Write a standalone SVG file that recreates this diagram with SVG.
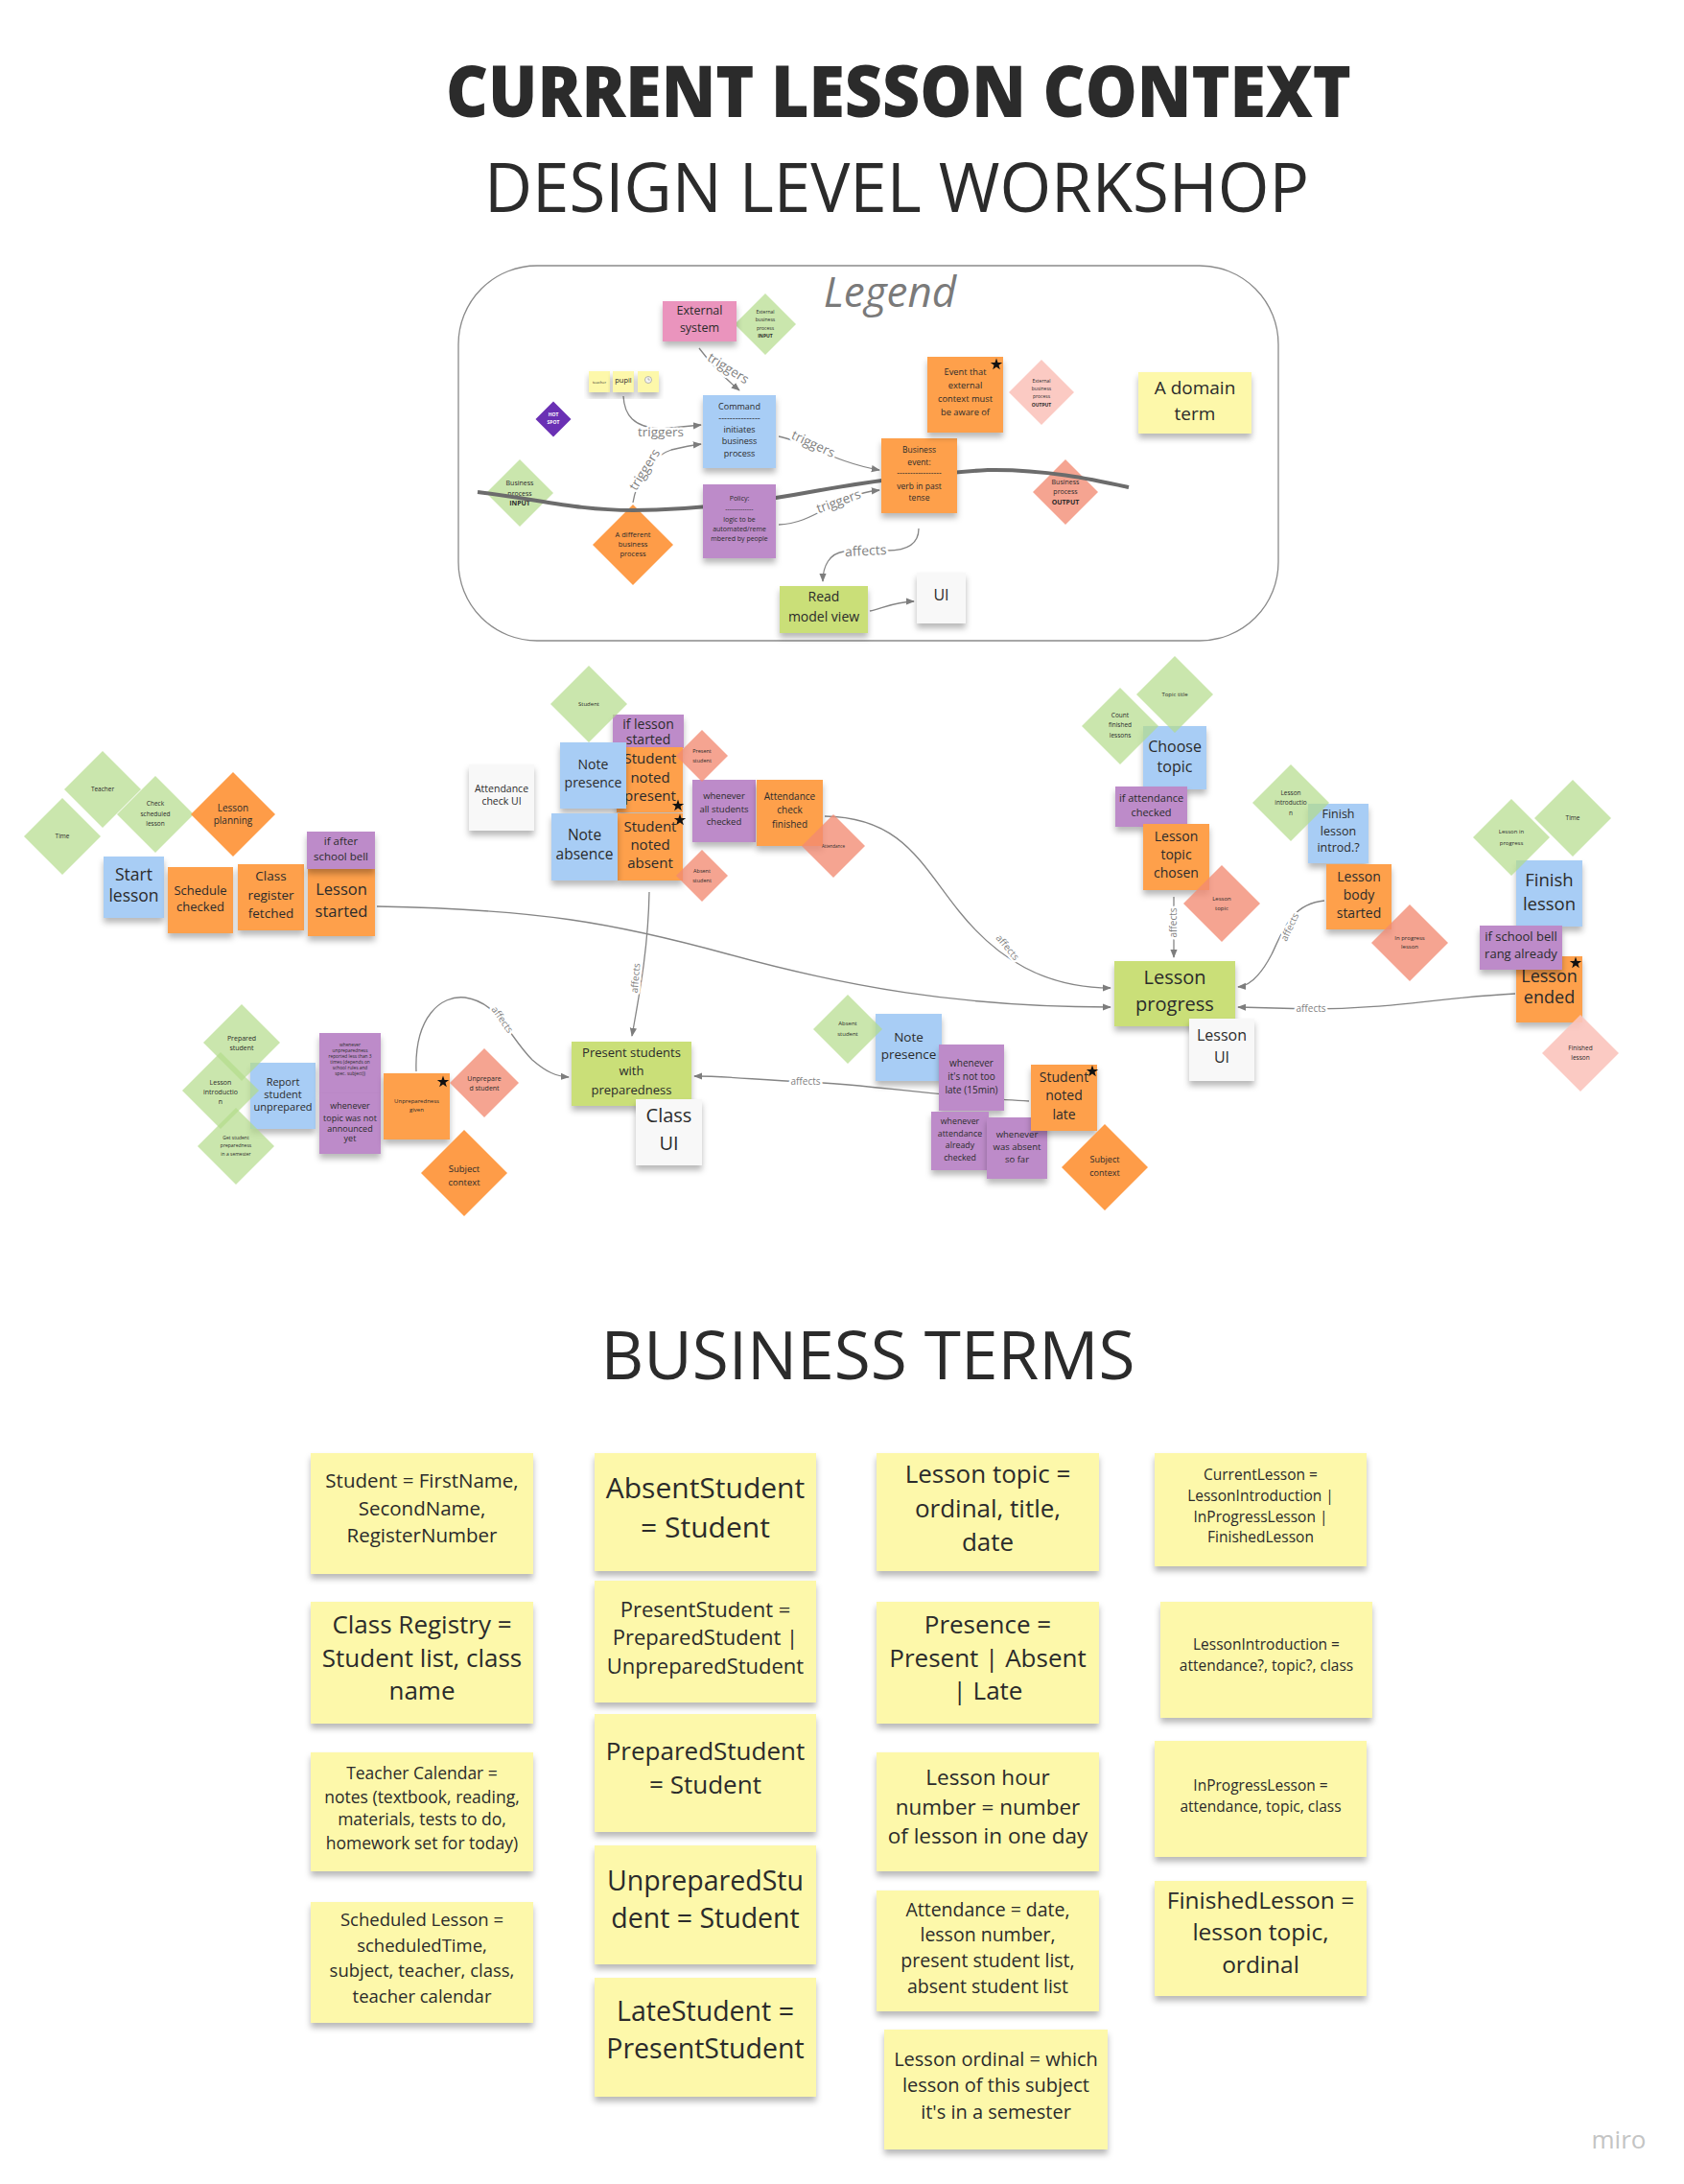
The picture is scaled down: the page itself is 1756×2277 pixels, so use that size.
<svg xmlns="http://www.w3.org/2000/svg" width="1756" height="2277" viewBox="0 0 1756 2277">
<defs>
<filter id="sh" x="-20%" y="-20%" width="140%" height="150%"><feDropShadow dx="0" dy="5" stdDeviation="3" flood-color="#000" flood-opacity="0.28"/></filter>
<marker id="ah" viewBox="0 0 10 10" refX="9" refY="5" markerWidth="7" markerHeight="7" orient="auto"><path d="M0,1 L10,5 L0,9 z" fill="#7d7d7d"/></marker>
<path id="star" d="M0,-6.5 L1.53,-2.1 L6.18,-2 L2.47,0.8 L3.82,5.26 L0,2.6 L-3.82,5.26 L-2.47,0.8 L-6.18,-2 L-1.53,-2.1 Z" fill="#111"/>
<style>
text{font-family:"Open Sans","Liberation Sans",sans-serif;fill:#2b2b2b;text-anchor:middle}
.ev{fill:#fea04c;filter:url(#sh)}
.cmd{fill:#a8cdf5;filter:url(#sh)}
.pol{fill:#bd8bc9;filter:url(#sh)}
.ext{fill:#ea94bd;filter:url(#sh)}
.rm{fill:#cadf78;filter:url(#sh)}
.ui{fill:#f8f8f8;filter:url(#sh)}
.term{fill:#fdf8aa;filter:url(#sh)}
.sy{fill:#fdf8aa;filter:url(#sh)}
.ga{fill:#b3dc8a;opacity:0.7}
.sa{fill:#f28a72;opacity:0.78}
.lp{fill:#fbc4bd;opacity:0.9}
.od{fill:#fe9c48}
.hs{fill:#6a30b4}
.c{fill:none;stroke:#858585;stroke-width:1.3}
.pl{fill:none;stroke:#6c6c6c;stroke-width:4}
.lbl{fill:#7f7f7f;stroke:#fff;stroke-width:5;paint-order:stroke;stroke-linejoin:round}
.b{font-weight:700}
</style>
</defs>
<rect width="1756" height="2277" fill="#fff"/>

<g id="title">
<text x="937" y="122" font-size="74" font-weight="800" fill="#161616" textLength="944" lengthAdjust="spacingAndGlyphs">CURRENT LESSON CONTEXT</text>
<text x="935" y="221" font-size="72" fill="#161616" textLength="860" lengthAdjust="spacingAndGlyphs">DESIGN LEVEL WORKSHOP</text>
</g>

<g id="legend">
<rect x="478" y="277" width="855" height="391" rx="82" fill="#fff" stroke="#8a8a8a" stroke-width="1.3"/>
<text x="928" y="320" font-size="44" font-style="italic" style="fill:#7a7a7a">Legend</text>
</g>

<g id="legend-connectors">
<path class="c" d="M729,363 Q748,388 771,407" marker-end="url(#ah)"/>
<text class="lbl" font-size="13.5" transform="translate(757,388) rotate(32)">triggers</text>
<path class="c" d="M650,413 C651,432 660,446 690,447 L731,443" marker-end="url(#ah)"/>
<text class="lbl" font-size="13.5" x="689" y="455">triggers</text>
<path class="c" d="M660,524 C664,500 680,475 700,469 C712,466 722,464 731,463" marker-end="url(#ah)"/>
<text class="lbl" font-size="13.5" transform="translate(676,492) rotate(-58)">triggers</text>
<path class="c" d="M812,455 C840,460 870,482 917,490" marker-end="url(#ah)"/>
<text class="lbl" font-size="13.5" transform="translate(846,467) rotate(25)">triggers</text>
<path class="c" d="M812,547 C850,546 870,516 917,511" marker-end="url(#ah)"/>
<text class="lbl" font-size="13.5" transform="translate(876,527) rotate(-20)">triggers</text>
<path class="c" d="M958,551 C958,570 940,574 925,574 L880,575 C865,577 858,590 858,606" marker-end="url(#ah)"/>
<text class="lbl" font-size="14" transform="translate(903,579) rotate(-3)">affects</text>
<path class="c" d="M907,637 C920,634 935,627 953,627" marker-end="url(#ah)"/>
</g>

<g id="legend-diamonds">
<g id="lg-ext-input"><polygon class="ga" points="798,306 830,338 798,370 766,338"/>
<text font-size="5"><tspan x="798" y="327">External</tspan><tspan x="798" y="335">business</tspan><tspan x="798" y="344">process</tspan><tspan x="798" y="352" class="b">INPUT</tspan></text></g>
<g id="lg-hotspot"><polygon class="hs" points="577,418.5 595.5,437 577,455.5 558.5,437"/>
<text font-size="5" class="b"><tspan x="577" y="434" style="fill:#fff">HOT</tspan><tspan x="577" y="442" style="fill:#fff">SPOT</tspan></text></g>
<g id="lg-bp-input"><polygon class="ga" points="542,479 577,514 542,549 507,514"/>
<text font-size="7"><tspan x="542" y="505.5">Business</tspan><tspan x="542" y="516.5">process</tspan><tspan x="542" y="526.5" class="b">INPUT</tspan></text></g>
<g id="lg-different"><polygon class="od" points="660,526 702,568 660,610 618,568"/>
<text font-size="7.5"><tspan x="660" y="559.5">A different</tspan><tspan x="660" y="569.5">business</tspan><tspan x="660" y="579.5">process</tspan></text></g>
<g id="lg-ext-output"><polygon class="lp" points="1086,375 1120,409 1086,443 1052,409"/>
<text font-size="5"><tspan x="1086" y="398.5">External</tspan><tspan x="1086" y="406.5">business</tspan><tspan x="1086" y="415">process</tspan><tspan x="1086" y="423.5" class="b">OUTPUT</tspan></text></g>
<g id="lg-bp-output"><polygon class="sa" points="1111,479 1145,513 1111,547 1077,513"/>
<text font-size="7"><tspan x="1111" y="504.5">Business</tspan><tspan x="1111" y="514.5">process</tspan><tspan x="1111" y="525.5" class="b">OUTPUT</tspan></text></g>
</g>

<path id="process-line" class="pl" d="M498,513 C560,520 600,532 660,532 C720,532 780,525 850,512 C900,503 960,494 1030,490 C1090,489 1140,500 1177,508"/>

<g id="legend-notes">
<g id="lg-external-system"><rect class="ext" x="691" y="314" width="77" height="42"/>
<text font-size="12.5"><tspan x="729.5" y="328">External</tspan><tspan x="729.5" y="346">system</tspan></text></g>
<g id="lg-teacher"><rect class="sy" x="614" y="387" width="22" height="22"/><text font-size="4" x="625" y="399.5">teacher</text></g>
<g id="lg-pupil"><rect class="sy" x="639" y="387" width="22" height="22"/><text font-size="7.5" x="650" y="399">pupil</text></g>
<g id="lg-clock"><rect class="sy" x="665" y="387" width="22" height="22"/><circle cx="676" cy="396" r="3.5" fill="#f4f4f4" stroke="#999" stroke-width="0.7"/><path d="M676,396 V393.8 M676,396 H677.8" stroke="#777" stroke-width="0.5"/></g>
<g id="lg-command"><rect class="cmd" x="733" y="412" width="76" height="76"/>
<text font-size="9"><tspan x="771" y="427">Command</tspan><tspan x="771" y="439">---------------</tspan><tspan x="771" y="451">initiates</tspan><tspan x="771" y="463">business</tspan><tspan x="771" y="476">process</tspan></text></g>
<g id="lg-policy"><rect class="pol" x="733" y="505" width="76" height="77"/>
<text font-size="7"><tspan x="771" y="522">Policy:</tspan><tspan x="771" y="533">-------------</tspan><tspan x="771" y="543.5">logic to be</tspan><tspan x="771" y="553.5">automated/reme</tspan><tspan x="771" y="563.5">mbered by people</tspan></text></g>
<g id="lg-business-event"><rect class="ev" x="919" y="457" width="79" height="78"/>
<text font-size="8.5"><tspan x="958.5" y="472">Business</tspan><tspan x="958.5" y="484.5">event:</tspan><tspan x="958.5" y="496">-----------------</tspan><tspan x="958.5" y="509.5">verb in past</tspan><tspan x="958.5" y="521.5">tense</tspan></text></g>
<g id="lg-event-external"><rect class="ev" x="967" y="372" width="79" height="79"/>
<text font-size="9.3"><tspan x="1006.5" y="391">Event that</tspan><tspan x="1006.5" y="405">external</tspan><tspan x="1006.5" y="419">context must</tspan><tspan x="1006.5" y="432.5">be aware of</tspan></text>
<use href="#star" transform="translate(1039,380)"/></g>
<g id="lg-domain-term"><rect class="term" x="1187" y="388" width="118" height="64"/>
<text font-size="19"><tspan x="1246" y="411">A domain</tspan><tspan x="1246" y="438">term</tspan></text></g>
<g id="lg-read-model"><rect class="rm" x="813" y="611" width="92" height="49"/>
<text font-size="14"><tspan x="859" y="627">Read</tspan><tspan x="859" y="648">model view</tspan></text></g>
<g id="lg-ui"><rect class="ui" x="956" y="597" width="51" height="53"/><text font-size="16" x="981.5" y="626">UI</text></g>
</g>

<g id="connectors">
<path class="c" d="M393,945 C560,948 640,962 760,995 C880,1028 1000,1050 1158,1050" marker-end="url(#ah)"/>
<path class="c" d="M860,851 C940,852 960,900 1000,950 C1040,1000 1090,1030 1158,1030" marker-end="url(#ah)"/>
<text class="lbl" font-size="10" transform="translate(1048,990) rotate(50)">affects</text>
<path class="c" d="M1224,935 L1224,998" marker-end="url(#ah)"/>
<text class="lbl" font-size="10" transform="translate(1227,962) rotate(-90)">affects</text>
<path class="c" d="M1381,939 C1345,942 1336,975 1326,995 C1314,1018 1302,1028 1291,1029" marker-end="url(#ah)"/>
<text class="lbl" font-size="10" transform="translate(1348,968) rotate(-65)">affects</text>
<path class="c" d="M1580,1036 C1500,1040 1450,1052 1367,1052 L1291,1050" marker-end="url(#ah)"/>
<text class="lbl" font-size="10" x="1367" y="1055">affects</text>
<path class="c" d="M677,930 C676,990 666,1040 659,1080" marker-end="url(#ah)"/>
<text class="lbl" font-size="10" transform="translate(666,1020) rotate(-85)">affects</text>
<path class="c" d="M434,1117 C432,1060 460,1037 485,1040 C520,1045 530,1080 555,1105 C570,1118 580,1122 593,1123" marker-end="url(#ah)"/>
<text class="lbl" font-size="10" transform="translate(521,1065) rotate(55)">affects</text>
<path class="c" d="M1073,1148 C1000,1145 900,1130 840,1128 C790,1126 760,1122 724,1122" marker-end="url(#ah)"/>
<text class="lbl" font-size="10" x="840" y="1131">affects</text>
</g>

<g id="notes">
<g id="start-lesson"><rect class="cmd" x="108" y="893" width="63" height="64"/>
<text font-size="17.5"><tspan x="139.5" y="918">Start</tspan><tspan x="139.5" y="940">lesson</tspan></text></g>
<g id="schedule-checked"><rect class="ev" x="175" y="904" width="68" height="69"/>
<text font-size="13"><tspan x="209" y="933">Schedule</tspan><tspan x="209" y="950">checked</tspan></text></g>
<g id="class-register-fetched"><rect class="ev" x="248" y="901" width="69" height="69"/>
<text font-size="13.5"><tspan x="282.5" y="918">Class</tspan><tspan x="282.5" y="938">register</tspan><tspan x="282.5" y="957">fetched</tspan></text></g>
<g id="lesson-started"><rect class="ev" x="321" y="905" width="70" height="71"/>
<text font-size="16.5"><tspan x="356" y="933">Lesson</tspan><tspan x="356" y="956">started</tspan></text></g>
<g id="if-after-school-bell"><rect class="pol" x="320" y="867" width="71" height="39"/>
<text font-size="11.5"><tspan x="355.5" y="881">if after</tspan><tspan x="355.5" y="897">school bell</tspan></text></g>

<g id="attendance-check-ui"><rect class="ui" x="489" y="797" width="68" height="69"/>
<text font-size="10.5"><tspan x="523" y="826">Attendance</tspan><tspan x="523" y="839">check UI</tspan></text></g>
<g id="if-lesson-started"><rect class="pol" x="639" y="745" width="74" height="35"/>
<text font-size="14"><tspan x="676" y="760">if lesson</tspan><tspan x="676" y="776">started</tspan></text></g>
<g id="student-noted-present"><rect class="ev" x="643" y="779" width="69" height="68"/>
<text font-size="15"><tspan x="678" y="796">Student</tspan><tspan x="678" y="816">noted</tspan><tspan x="678" y="835">present</tspan></text>
<use href="#star" transform="translate(707,840)"/></g>
<g id="note-presence-1"><rect class="cmd" x="584" y="774" width="69" height="69"/>
<text font-size="14"><tspan x="618.5" y="802">Note</tspan><tspan x="618.5" y="821">presence</tspan></text></g>
<g id="student-noted-absent"><rect class="ev" x="644" y="848" width="68" height="70"/>
<text font-size="15"><tspan x="678" y="867">Student</tspan><tspan x="678" y="886">noted</tspan><tspan x="678" y="905">absent</tspan></text>
<use href="#star" transform="translate(709,855)"/></g>
<g id="note-absence"><rect class="cmd" x="575" y="848" width="69" height="70"/>
<text font-size="15.5"><tspan x="609.5" y="876">Note</tspan><tspan x="609.5" y="896">absence</tspan></text></g>
<g id="whenever-all-checked"><rect class="pol" x="722" y="813" width="66" height="65"/>
<text font-size="9.5"><tspan x="755" y="833">whenever</tspan><tspan x="755" y="847">all students</tspan><tspan x="755" y="860">checked</tspan></text></g>
<g id="attendance-check-finished"><rect class="ev" x="789" y="813" width="69" height="69"/>
<text font-size="10"><tspan x="823.5" y="834">Attendance</tspan><tspan x="823.5" y="848">check</tspan><tspan x="823.5" y="863">finished</tspan></text></g>

<g id="choose-topic"><rect class="cmd" x="1192" y="757" width="66" height="66"/>
<text font-size="16"><tspan x="1225" y="784">Choose</tspan><tspan x="1225" y="805">topic</tspan></text></g>
<g id="if-attendance-checked"><rect class="pol" x="1163" y="820" width="75" height="42"/>
<text font-size="11"><tspan x="1200.5" y="836">if attendance</tspan><tspan x="1200.5" y="851">checked</tspan></text></g>
<g id="lesson-topic-chosen"><rect class="ev" x="1192" y="859" width="69" height="69"/>
<text font-size="14"><tspan x="1226.5" y="877">Lesson</tspan><tspan x="1226.5" y="896">topic</tspan><tspan x="1226.5" y="915">chosen</tspan></text></g>
<g id="lesson-progress"><rect class="rm" x="1162" y="1002" width="126" height="68"/>
<text font-size="20"><tspan x="1225" y="1026">Lesson</tspan><tspan x="1225" y="1054">progress</tspan></text></g>
<g id="lesson-ui"><rect class="ui" x="1240" y="1062" width="68" height="65"/>
<text font-size="16"><tspan x="1274" y="1085">Lesson</tspan><tspan x="1274" y="1108">UI</tspan></text></g>
<g id="finish-lesson-introd"><rect class="cmd" x="1364" y="838" width="63" height="62"/>
<text font-size="12.5"><tspan x="1395.5" y="853">Finish</tspan><tspan x="1395.5" y="871">lesson</tspan><tspan x="1395.5" y="888">introd.?</tspan></text></g>
<g id="lesson-body-started"><rect class="ev" x="1383" y="901" width="68" height="68"/>
<text font-size="14"><tspan x="1417" y="919">Lesson</tspan><tspan x="1417" y="938">body</tspan><tspan x="1417" y="957">started</tspan></text></g>
<g id="finish-lesson"><rect class="cmd" x="1581" y="897" width="69" height="69"/>
<text font-size="18.5"><tspan x="1615.5" y="924">Finish</tspan><tspan x="1615.5" y="949">lesson</tspan></text></g>
<g id="lesson-ended"><rect class="ev" x="1581" y="997" width="69" height="69"/>
<text font-size="18"><tspan x="1615.5" y="1024">Lesson</tspan><tspan x="1615.5" y="1046">ended</tspan></text>
<use href="#star" transform="translate(1643,1004)"/></g>
<g id="if-school-bell"><rect class="pol" x="1543" y="965" width="86" height="46"/>
<text font-size="13"><tspan x="1586" y="981">if school bell</tspan><tspan x="1586" y="999">rang already</tspan></text></g>

<g id="report-student-unprepared"><rect class="cmd" x="261" y="1108" width="68" height="69"/>
<text font-size="11"><tspan x="295" y="1132">Report</tspan><tspan x="295" y="1145">student</tspan><tspan x="295" y="1158">unprepared</tspan></text></g>
<g id="whenever-unpreparedness"><rect class="pol" x="333" y="1077" width="64" height="63"/>
<text font-size="4.8"><tspan x="365" y="1091">whenever</tspan><tspan x="365" y="1097">unpreparedness</tspan><tspan x="365" y="1103">reported less than 3</tspan><tspan x="365" y="1109">times (depends on</tspan><tspan x="365" y="1115">school rules and</tspan><tspan x="365" y="1121">spec. subject))</tspan></text></g>
<g id="whenever-topic"><rect class="pol" x="333" y="1140" width="64" height="63"/>
<text font-size="9"><tspan x="365" y="1156">whenever</tspan><tspan x="365" y="1169">topic was not</tspan><tspan x="365" y="1180">announced</tspan><tspan x="365" y="1190">yet</tspan></text></g>
<g id="unpreparedness-given"><rect class="ev" x="400" y="1119" width="69" height="69"/>
<text font-size="6"><tspan x="434.5" y="1150">Unpreparedness</tspan><tspan x="434.5" y="1159">given</tspan></text>
<use href="#star" transform="translate(462,1128)"/></g>

<g id="present-students"><rect class="rm" x="596" y="1086" width="125" height="67"/>
<text font-size="13"><tspan x="658.5" y="1102">Present students</tspan><tspan x="658.5" y="1121">with</tspan><tspan x="658.5" y="1141">preparedness</tspan></text></g>
<g id="class-ui"><rect class="ui" x="663" y="1146" width="69" height="69"/>
<text font-size="20"><tspan x="697.5" y="1170">Class</tspan><tspan x="697.5" y="1199">UI</tspan></text></g>
<g id="note-presence-2"><rect class="cmd" x="913" y="1057" width="69" height="70"/>
<text font-size="13.5"><tspan x="947.5" y="1086">Note</tspan><tspan x="947.5" y="1104">presence</tspan></text></g>
<g id="whenever-not-too-late"><rect class="pol" x="979" y="1089" width="68" height="69"/>
<text font-size="10"><tspan x="1013" y="1112">whenever</tspan><tspan x="1013" y="1126">it's not too</tspan><tspan x="1013" y="1140">late (15min)</tspan></text></g>
<g id="whenever-attendance-already"><rect class="pol" x="971" y="1159" width="60" height="61"/>
<text font-size="8.8"><tspan x="1001" y="1172">whenever</tspan><tspan x="1001" y="1185">attendance</tspan><tspan x="1001" y="1197">already</tspan><tspan x="1001" y="1210">checked</tspan></text></g>
<g id="whenever-was-absent"><rect class="pol" x="1029" y="1165" width="63" height="64"/>
<text font-size="9.5"><tspan x="1060.5" y="1185.5">whenever</tspan><tspan x="1060.5" y="1198.5">was absent</tspan><tspan x="1060.5" y="1211.5">so far</tspan></text></g>
<g id="student-noted-late"><rect class="ev" x="1075" y="1110" width="69" height="69"/>
<text font-size="14"><tspan x="1109.5" y="1128">Student</tspan><tspan x="1109.5" y="1147">noted</tspan><tspan x="1109.5" y="1167">late</tspan></text>
<use href="#star" transform="translate(1139,1117)"/></g>
</g>

<g id="diamonds">
<g id="teacher"><polygon class="ga" points="107,783 147,823 107,863 67,823"/><text font-size="6.5" x="107" y="825">Teacher</text></g>
<g id="time-1"><polygon class="ga" points="65,832 105,872 65,912 25,872"/><text font-size="6.5" x="65" y="874">Time</text></g>
<g id="check-scheduled"><polygon class="ga" points="162,809 202,849 162,889 122,849"/>
<text font-size="6.5"><tspan x="162" y="840">Check</tspan><tspan x="162" y="851">scheduled</tspan><tspan x="162" y="861">lesson</tspan></text></g>
<g id="lesson-planning"><polygon class="od" points="243,805 287,849 243,893 199,849"/>
<text font-size="10"><tspan x="243" y="845.5">Lesson</tspan><tspan x="243" y="858.5">planning</tspan></text></g>

<g id="student"><polygon class="ga" points="614,694 654,734 614,774 574,734"/><text font-size="6" x="614" y="736">Student</text></g>
<g id="present-student"><polygon class="sa" points="732,761 759,788 732,815 705,788"/>
<text font-size="5.5"><tspan x="732" y="785">Present</tspan><tspan x="732" y="795">student</tspan></text></g>
<g id="absent-student-1"><polygon class="sa" points="732,886 759,913 732,940 705,913"/>
<text font-size="5.5"><tspan x="732" y="910">Absent</tspan><tspan x="732" y="920">student</tspan></text></g>
<g id="attendance"><polygon class="sa" points="869,849 902,882 869,915 836,882"/><text font-size="4.5" x="869" y="884">Attendance</text></g>

<g id="topic-title"><polygon class="ga" points="1225,684 1265,724 1225,764 1185,724"/><text font-size="6" x="1225" y="726">Topic title</text></g>
<g id="count-finished"><polygon class="ga" points="1168,717 1208,757 1168,797 1128,757"/>
<text font-size="6.5"><tspan x="1168" y="748">Count</tspan><tspan x="1168" y="758">finished</tspan><tspan x="1168" y="769">lessons</tspan></text></g>
<g id="lesson-topic"><polygon class="sa" points="1274,902 1314,942 1274,982 1234,942"/>
<text font-size="6"><tspan x="1274" y="939">Lesson</tspan><tspan x="1274" y="949">topic</tspan></text></g>
<g id="lesson-introduction-1"><polygon class="ga" points="1346,797 1386,837 1346,877 1306,837"/>
<text font-size="6.5"><tspan x="1346" y="829">Lesson</tspan><tspan x="1346" y="839">introductio</tspan><tspan x="1346" y="850">n</tspan></text></g>
<g id="in-progress-lesson"><polygon class="sa" points="1470,943 1510,983 1470,1023 1430,983"/>
<text font-size="6"><tspan x="1470" y="980">In progress</tspan><tspan x="1470" y="989">lesson</tspan></text></g>
<g id="lesson-in-progress"><polygon class="ga" points="1576,833 1616,873 1576,913 1536,873"/>
<text font-size="6"><tspan x="1576" y="869">Lesson in</tspan><tspan x="1576" y="881">progress</tspan></text></g>
<g id="time-2"><polygon class="ga" points="1640,813 1680,853 1640,893 1600,853"/><text font-size="6.5" x="1640" y="855">Time</text></g>
<g id="finished-lesson"><polygon class="lp" points="1648,1058 1688,1098 1648,1138 1608,1098"/>
<text font-size="6.5"><tspan x="1648" y="1095">Finished</tspan><tspan x="1648" y="1105">lesson</tspan></text></g>

<g id="prepared-student"><polygon class="ga" points="252,1047 292,1087 252,1127 212,1087"/>
<text font-size="7"><tspan x="252" y="1084.5">Prepared</tspan><tspan x="252" y="1094.5">student</tspan></text></g>
<g id="lesson-introduction-2"><polygon class="ga" points="230,1097 270,1137 230,1177 190,1137"/>
<text font-size="7"><tspan x="230" y="1130.5">Lesson</tspan><tspan x="230" y="1140.5">introductio</tspan><tspan x="230" y="1150.5">n</tspan></text></g>
<g id="get-preparedness"><polygon class="ga" points="246,1155 286,1195 246,1235 206,1195"/>
<text font-size="5"><tspan x="246" y="1188">Get student</tspan><tspan x="246" y="1196">preparedness</tspan><tspan x="246" y="1205">in a semester</tspan></text></g>
<g id="unprepared-student"><polygon class="sa" points="505,1093 541,1129 505,1165 469,1129"/>
<text font-size="7"><tspan x="505" y="1126.5">Unprepare</tspan><tspan x="505" y="1136.5">d student</tspan></text></g>
<g id="subject-context-1"><polygon class="od" points="484,1178 529,1223 484,1268 439,1223"/>
<text font-size="9.5"><tspan x="484" y="1221.5">Subject</tspan><tspan x="484" y="1235.5">context</tspan></text></g>
<g id="absent-student-2"><polygon class="ga" points="884,1037 920,1073 884,1109 848,1073"/>
<text font-size="6"><tspan x="884" y="1069">Absent</tspan><tspan x="884" y="1080">student</tspan></text></g>
<g id="subject-context-2"><polygon class="od" points="1152,1172 1197,1217 1152,1262 1107,1217"/>
<text font-size="9"><tspan x="1152" y="1212">Subject</tspan><tspan x="1152" y="1226">context</tspan></text></g>
</g>

<g id="business-terms">
<text x="905" y="1438" font-size="70" fill="#161616" textLength="557" lengthAdjust="spacingAndGlyphs">BUSINESS TERMS</text>

<g id="t-student"><rect class="term" x="324" y="1515" width="232" height="126"/>
<text font-size="20.5"><tspan x="440" y="1551">Student = FirstName,</tspan><tspan x="440" y="1580">SecondName,</tspan><tspan x="440" y="1608">RegisterNumber</tspan></text></g>
<g id="t-class-registry"><rect class="term" x="324" y="1670" width="232" height="127"/>
<text font-size="26"><tspan x="440" y="1703">Class Registry =</tspan><tspan x="440" y="1738">Student list, class</tspan><tspan x="440" y="1772">name</tspan></text></g>
<g id="t-teacher-calendar"><rect class="term" x="324" y="1827" width="232" height="124"/>
<text font-size="17.5"><tspan x="440" y="1855">Teacher Calendar =</tspan><tspan x="440" y="1880">notes (textbook, reading,</tspan><tspan x="440" y="1903">materials, tests to do,</tspan><tspan x="440" y="1928">homework set for today)</tspan></text></g>
<g id="t-scheduled-lesson"><rect class="term" x="324" y="1983" width="232" height="126"/>
<text font-size="18.5"><tspan x="440" y="2008">Scheduled Lesson =</tspan><tspan x="440" y="2035">scheduledTime,</tspan><tspan x="440" y="2061">subject, teacher, class,</tspan><tspan x="440" y="2088">teacher calendar</tspan></text></g>

<g id="t-absent-student"><rect class="term" x="620" y="1515" width="231" height="123"/>
<text font-size="30"><tspan x="735.5" y="1562">AbsentStudent</tspan><tspan x="735.5" y="1603">= Student</tspan></text></g>
<g id="t-present-student"><rect class="term" x="620" y="1648" width="231" height="127"/>
<text font-size="22"><tspan x="735.5" y="1686">PresentStudent =</tspan><tspan x="735.5" y="1715">PreparedStudent |</tspan><tspan x="735.5" y="1745">UnpreparedStudent</tspan></text></g>
<g id="t-prepared-student"><rect class="term" x="620" y="1787" width="231" height="123"/>
<text font-size="26"><tspan x="735.5" y="1835">PreparedStudent</tspan><tspan x="735.5" y="1870">= Student</tspan></text></g>
<g id="t-unprepared-student"><rect class="term" x="620" y="1924" width="231" height="124"/>
<text font-size="28.5"><tspan x="735.5" y="1971">UnpreparedStu</tspan><tspan x="735.5" y="2010">dent = Student</tspan></text></g>
<g id="t-late-student"><rect class="term" x="620" y="2062" width="231" height="124"/>
<text font-size="28.5"><tspan x="735.5" y="2107">LateStudent =</tspan><tspan x="735.5" y="2146">PresentStudent</tspan></text></g>

<g id="t-lesson-topic"><rect class="term" x="914" y="1515" width="232" height="123"/>
<text font-size="26"><tspan x="1030" y="1546">Lesson topic =</tspan><tspan x="1030" y="1582">ordinal, title,</tspan><tspan x="1030" y="1617">date</tspan></text></g>
<g id="t-presence"><rect class="term" x="914" y="1670" width="232" height="127"/>
<text font-size="26"><tspan x="1030" y="1703">Presence =</tspan><tspan x="1030" y="1738">Present | Absent</tspan><tspan x="1030" y="1772">| Late</tspan></text></g>
<g id="t-lesson-hour"><rect class="term" x="914" y="1827" width="232" height="124"/>
<text font-size="22.5"><tspan x="1030" y="1861">Lesson hour</tspan><tspan x="1030" y="1892">number = number</tspan><tspan x="1030" y="1922">of lesson in one day</tspan></text></g>
<g id="t-attendance"><rect class="term" x="914" y="1971" width="232" height="126"/>
<text font-size="19.5"><tspan x="1030" y="1998">Attendance = date,</tspan><tspan x="1030" y="2024">lesson number,</tspan><tspan x="1030" y="2051">present student list,</tspan><tspan x="1030" y="2078">absent student list</tspan></text></g>
<g id="t-lesson-ordinal"><rect class="term" x="922" y="2116" width="233" height="125"/>
<text font-size="20"><tspan x="1038.5" y="2154">Lesson ordinal = which</tspan><tspan x="1038.5" y="2181">lesson of this subject</tspan><tspan x="1038.5" y="2209">it's in a semester</tspan></text></g>

<g id="t-current-lesson"><rect class="term" x="1204" y="1515" width="221" height="118"/>
<text font-size="15.5"><tspan x="1314.5" y="1543">CurrentLesson =</tspan><tspan x="1314.5" y="1565">LessonIntroduction |</tspan><tspan x="1314.5" y="1587">InProgressLesson |</tspan><tspan x="1314.5" y="1608">FinishedLesson</tspan></text></g>
<g id="t-lesson-introduction"><rect class="term" x="1210" y="1670" width="221" height="121"/>
<text font-size="15.5"><tspan x="1320.5" y="1720">LessonIntroduction =</tspan><tspan x="1320.5" y="1742">attendance?, topic?, class</tspan></text></g>
<g id="t-inprogress-lesson"><rect class="term" x="1204" y="1815" width="221" height="121"/>
<text font-size="15.5"><tspan x="1314.5" y="1867">InProgressLesson =</tspan><tspan x="1314.5" y="1889">attendance, topic, class</tspan></text></g>
<g id="t-finished-lesson"><rect class="term" x="1204" y="1961" width="221" height="120"/>
<text font-size="24.5"><tspan x="1314.5" y="1990">FinishedLesson =</tspan><tspan x="1314.5" y="2023">lesson topic,</tspan><tspan x="1314.5" y="2057">ordinal</tspan></text></g>
</g>

<text id="watermark" x="1688" y="2240" font-size="26" style="fill:#c4c4c4">miro</text>
</svg>
